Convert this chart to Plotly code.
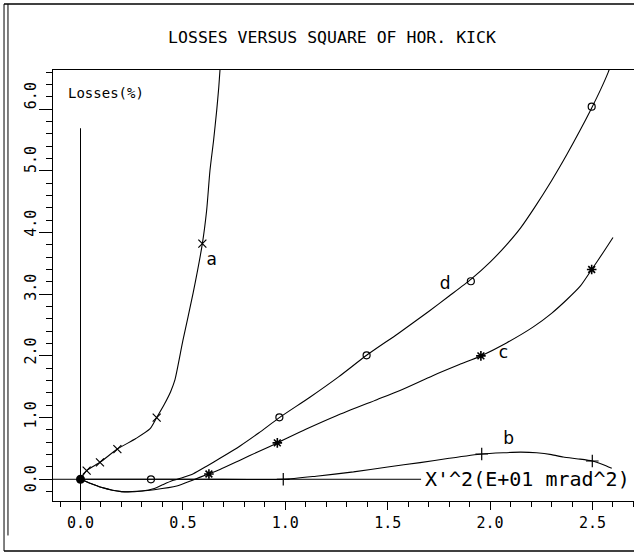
import plotly.graph_objects as go

# ---------------- data ----------------
title_text = "LOSSES VERSUS SQUARE OF HOR. KICK"
y_label = "Losses(%)"
x_label = "X'^2(E+01 mrad^2)"

# curve a (x markers)
a_x = [0, 0.03, 0.095, 0.18, 0.27, 0.34, 0.372, 0.41, 0.44, 0.461, 0.50, 0.55, 0.595, 0.616, 0.632, 0.65, 0.665, 0.675, 0.681, 0.683]
a_y = [0, 0.14, 0.275, 0.49, 0.66, 0.82, 1.00, 1.22, 1.42, 1.61, 2.25, 3.02, 3.82, 4.36, 5.00, 5.50, 5.98, 6.35, 6.63, 6.7]
a_mx = [0.03, 0.095, 0.18, 0.372, 0.595]
a_my = [0.14, 0.275, 0.49, 1.00, 3.82]

# curve b (+ markers)
b_x = [0, 0.3, 0.6, 0.99, 1.15, 1.333, 1.5, 1.658, 1.8, 1.959, 2.064, 2.15, 2.227, 2.30, 2.357, 2.43, 2.499, 2.55, 2.594]
b_y = [0, 0.0, 0.0, 0.0, 0.05, 0.12, 0.20, 0.27, 0.34, 0.41, 0.43, 0.44, 0.43, 0.40, 0.36, 0.33, 0.296, 0.24, 0.178]
b_mx = [0.99, 1.959, 2.499]
b_my = [0.0, 0.41, 0.296]

# curve c (star markers)
c_x = [0, 0.05, 0.1, 0.2, 0.3, 0.36, 0.47, 0.55, 0.627, 0.681, 0.779, 0.87, 0.961, 1.1, 1.25, 1.447, 1.56, 1.72, 1.85, 1.955, 2.08, 2.211, 2.30, 2.374, 2.44, 2.496, 2.553, 2.60]
c_y = [0, -0.07, -0.13, -0.2, -0.19, -0.17, -0.11, -0.01, 0.09, 0.16, 0.31, 0.45, 0.59, 0.81, 1.03, 1.29, 1.44, 1.68, 1.86, 2.0, 2.21, 2.47, 2.69, 2.91, 3.13, 3.40, 3.68, 3.92]
c_mx = [0.627, 0.961, 1.955, 2.496]
c_my = [0.086, 0.59, 2.0, 3.40]

# curve d (circle markers)
d_x = [0, 0.05, 0.1, 0.2, 0.3, 0.36, 0.40, 0.45, 0.50, 0.551, 0.62, 0.681, 0.779, 0.87, 0.971, 1.12, 1.26, 1.397, 1.55, 1.70, 1.80, 1.906, 2.0, 2.08, 2.15, 2.22, 2.30, 2.374, 2.44, 2.496, 2.54, 2.577, 2.59]
d_y = [0, -0.07, -0.13, -0.2, -0.19, -0.15, -0.09, -0.02, 0.03, 0.09, 0.22, 0.34, 0.54, 0.75, 1.0, 1.33, 1.66, 2.01, 2.36, 2.72, 2.97, 3.24, 3.52, 3.80, 4.08, 4.42, 4.84, 5.26, 5.66, 6.02, 6.32, 6.60, 6.72]
d_mx = [0.344, 0.971, 1.397, 1.906, 2.496]
d_my = [0.0, 1.005, 2.01, 3.21, 6.04]

# origin point
o_x = [0]
o_y = [0]

# curve labels
lab_text = ["a", "b", "c", "d"]
lab_x = [0.641, 2.09, 2.065, 1.78]
lab_y = [3.55, 0.64, 2.03, 3.15]

# axis ranges / ticks
x_range = [-0.1343, 2.7026]
y_range = [-0.352, 6.634]
x_ticks = [0.0, 0.5, 1.0, 1.5, 2.0, 2.5]
y_ticks = [0.0, 1.0, 2.0, 3.0, 4.0, 5.0, 6.0]
# the plotter wrote the y labels with a slightly wider spacing than the ticks
y_label_pos = [0.0, 1.035, 2.07, 3.105, 4.14, 5.175, 6.21]

MONO = "DejaVu Sans Mono"
LW = 1.1

fig = go.Figure()

def add_line(xs, ys):
    fig.add_trace(go.Scatter(x=xs, y=ys, mode="lines",
                             line=dict(color="black", width=LW, shape="spline", smoothing=0.6),
                             hoverinfo="skip", showlegend=False))

def add_markers(xs, ys, symbol, size, lw=1.0):
    fig.add_trace(go.Scatter(x=xs, y=ys, mode="markers",
                             marker=dict(symbol=symbol, size=size, color="black",
                                         line=dict(color="black", width=lw)),
                             hoverinfo="skip", showlegend=False))

add_line(a_x, a_y)
add_line(b_x, b_y)
add_line(c_x, c_y)
add_line(d_x, d_y)

add_markers(a_mx, a_my, "x-thin", 8, 1.2)
add_markers(b_mx, b_my, "cross-thin", 9, 1.2)
add_markers(c_mx, c_my, "asterisk", 8, 1.6)
add_markers(d_mx, d_my, "circle-open", 7, 1.2)
add_markers(o_x, o_y, "circle", 9, 0)

# curve labels
fig.add_trace(go.Scatter(x=lab_x, y=lab_y, mode="text", text=lab_text,
                         textfont=dict(family="DejaVu Sans", size=17, color="black"),
                         hoverinfo="skip", showlegend=False))

# internal axes (zero lines)
fig.add_shape(type="line", xref="x", yref="y", x0=0, x1=0, y0=y_range[0], y1=5.69,
              line=dict(color="black", width=1))
fig.add_shape(type="line", xref="x", yref="y", x0=x_range[0], x1=1.663, y0=0, y1=0,
              line=dict(color="black", width=1))

# axis labels inside the plot
fig.add_annotation(x=-0.071, y=6.26, xref="x", yref="y", text=y_label, showarrow=False,
                   xanchor="left", yanchor="middle", font=dict(family=MONO, size=14, color="black"))
fig.add_annotation(x=1.672, y=0.0, xref="x", yref="y", text=x_label, showarrow=False,
                   xanchor="left", yanchor="middle", font=dict(family=MONO, size=20, color="black"))

# y tick labels (rotated, as written by the plotter)
for val, pos in zip(y_ticks, y_label_pos):
    fig.add_annotation(x=(31 - 53) / 581, y=pos, xref="paper", yref="y", text=f"{val:.1f}",
                       showarrow=False, textangle=-90, xanchor="center", yanchor="middle",
                       font=dict(family=MONO, size=15, color="black"))

# outer page border
fig.add_shape(type="line", xref="paper", yref="paper", x0=-0.0843, x1=1.02, y0=1.153, y1=1.153,
              line=dict(color="black", width=1.5))
fig.add_shape(type="line", xref="paper", yref="paper", x0=-0.0843, x1=1.02, y0=-0.116, y1=-0.116,
              line=dict(color="black", width=1.5))
fig.add_shape(type="line", xref="paper", yref="paper", x0=-0.0843, x1=-0.0843, y0=-0.116, y1=1.153,
              line=dict(color="black", width=1))
fig.add_shape(type="line", xref="paper", yref="paper", x0=-0.0775, x1=-0.0775, y0=-0.08, y1=1.153,
              line=dict(color="black", width=1))

fig.update_layout(
    width=634, height=556,
    margin=dict(l=53, r=0, t=70, b=55, autoexpand=False),
    paper_bgcolor="white", plot_bgcolor="white",
    title=dict(text=title_text, x=332 / 634, xref="container", y=1 - 37 / 556, yref="container",
               xanchor="center", yanchor="middle", font=dict(family=MONO, size=16.5, color="black"),
               automargin=False),
    font=dict(family=MONO, color="black"),
    xaxis=dict(range=x_range, automargin=False, showgrid=False, zeroline=False, showline=True, linecolor="black",
               linewidth=1, mirror=True, tickvals=x_ticks, tickformat=".1f", ticks="outside",
               ticklen=8, tickwidth=1, tickcolor="black", tickfont=dict(family=MONO, size=15),
               minor=dict(dtick=0.1, tick0=0, ticks="outside", ticklen=5, tickwidth=1, tickcolor="black")),
    yaxis=dict(range=y_range, automargin=False, showgrid=False, zeroline=False, showline=True, linecolor="black",
               linewidth=1, mirror=False, tickvals=y_ticks, showticklabels=False, ticks="outside",
               ticklen=13, tickwidth=1, tickcolor="black",
               minor=dict(dtick=0.2, tick0=0, ticks="outside", ticklen=6, tickwidth=1, tickcolor="black")),
)

fig.write_html("out.html", config={"displayModeBar": False},
               post_script="document.body.style.margin='0';document.body.style.padding='0';")
